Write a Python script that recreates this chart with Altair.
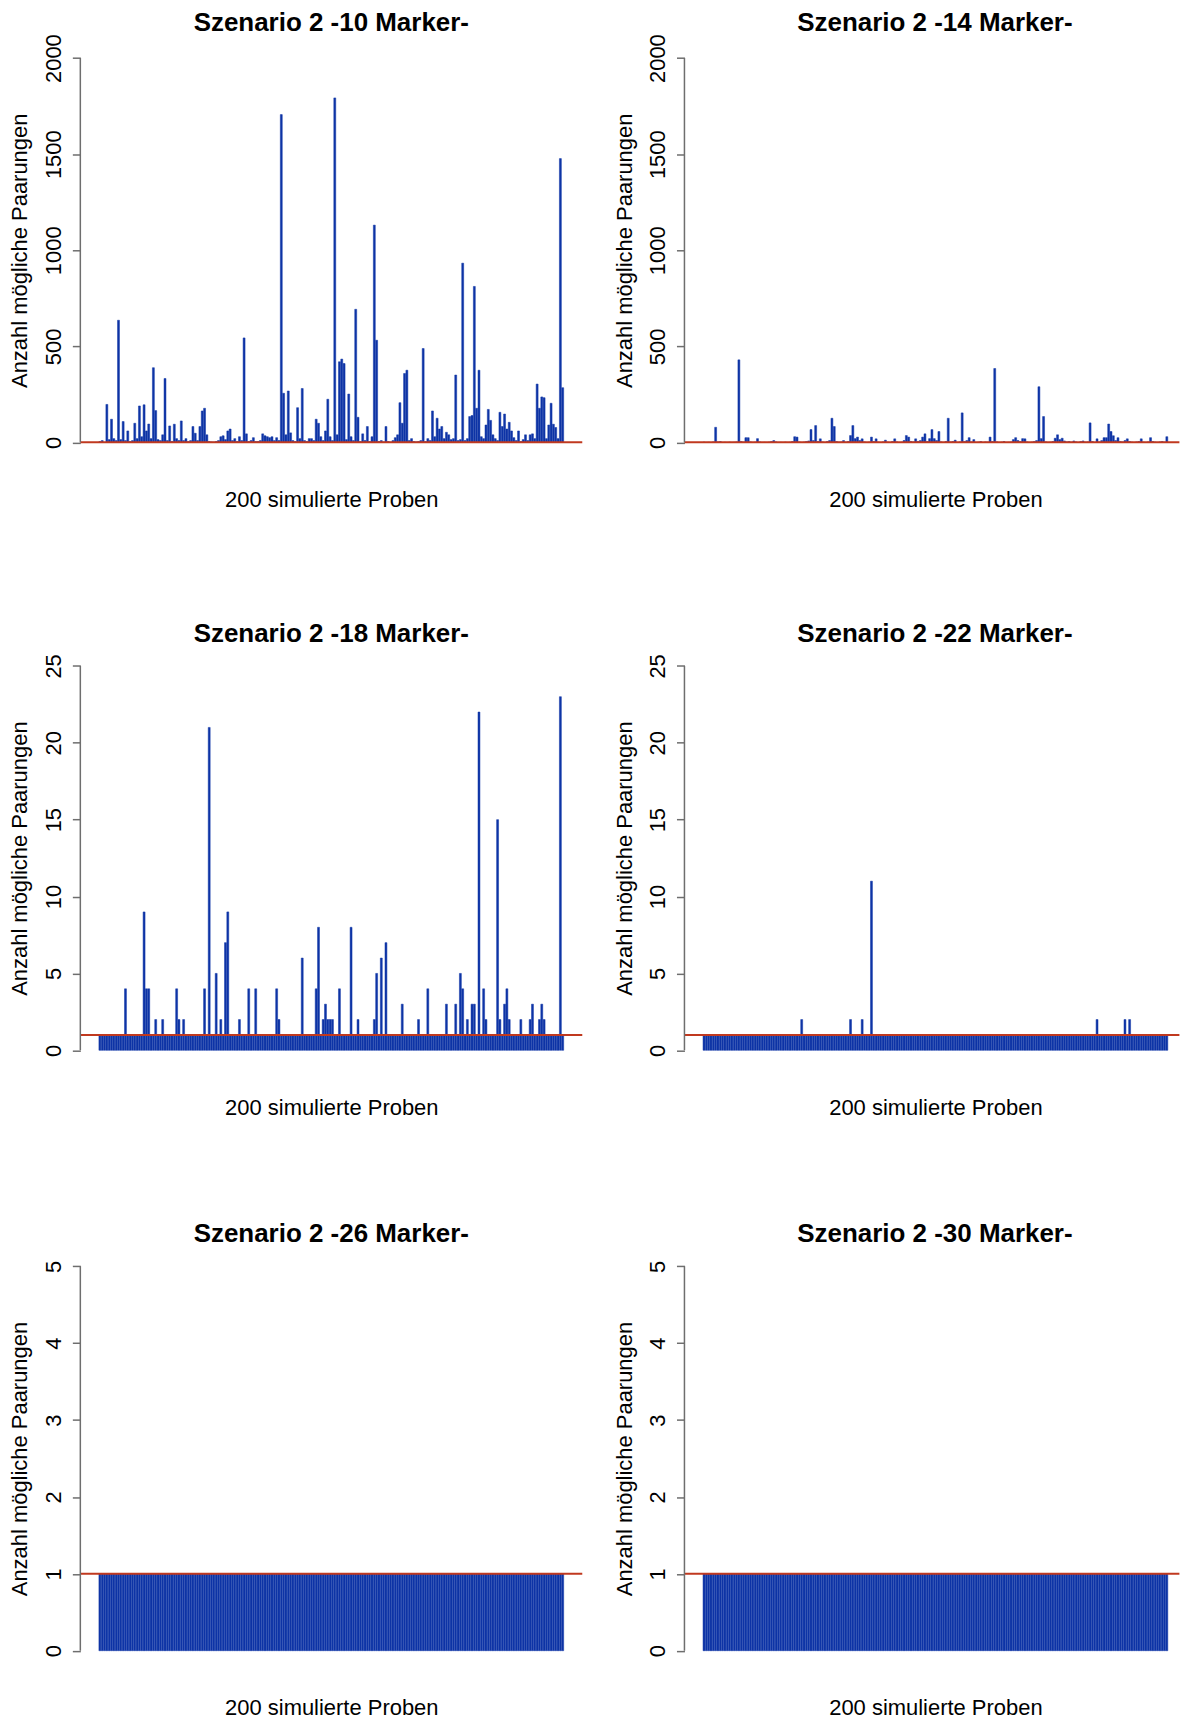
import altair as alt
import pandas as pd

BLUE = "#0e34a6"
RED = "#c0391f"
AXIS_GREY = "#6e6e6e"
FONT = "Liberation Sans"

titles = [
    "Szenario 2 -10 Marker-", "Szenario 2 -14 Marker-",
    "Szenario 2 -18 Marker-", "Szenario 2 -22 Marker-",
    "Szenario 2 -26 Marker-", "Szenario 2 -30 Marker-",
]
x_title = "200 simulierte Proben"
y_title = "Anzahl mögliche Paarungen"

m10 = [
    5, 10, 0, 198, 15, 121, 20, 10, 636, 15, 109, 10, 60, 5, 10, 100, 20, 190, 30, 196,
    60, 96, 20, 389, 166, 15, 10, 40, 333, 10, 86, 5, 95, 20, 10, 112, 10, 20, 5, 10,
    83, 48, 10, 83, 164, 178, 40, 5, 3, 2, 5, 10, 30, 35, 15, 60, 70, 10, 20, 5,
    30, 10, 544, 45, 5, 10, 25, 5, 5, 10, 45, 35, 30, 25, 30, 10, 25, 10, 1706, 256,
    40, 268, 50, 10, 5, 181, 20, 281, 10, 5, 20, 20, 10, 121, 100, 30, 10, 60, 225, 30,
    10, 1793, 40, 420, 434, 411, 15, 252, 30, 10, 693, 131, 5, 45, 10, 83, 5, 30, 1131, 532,
    5, 10, 3, 83, 5, 2, 10, 25, 40, 207, 100, 359, 376, 10, 20, 5, 3, 5, 10, 489,
    5, 20, 10, 164, 30, 126, 70, 83, 20, 53, 40, 15, 20, 351, 10, 15, 933, 10, 20, 135,
    140, 812, 178, 376, 30, 20, 91, 172, 115, 40, 20, 10, 157, 83, 148, 70, 105, 60, 25, 10,
    60, 5, 15, 40, 10, 40, 45, 20, 304, 178, 237, 233, 20, 91, 204, 95, 78, 20, 1477, 285,
]
m14 = [
    2, 0, 1, 0, 3, 79, 3, 5, 0, 1, 0, 2, 0, 1, 3, 430, 5, 2, 25, 25,
    3, 0, 2, 20, 3, 0, 1, 0, 2, 5, 10, 3, 0, 1, 0, 2, 0, 1, 5, 30,
    28, 3, 0, 2, 5, 8, 67, 10, 88, 5, 19, 3, 0, 5, 10, 126, 83, 5, 2, 3,
    10, 2, 5, 36, 88, 20, 28, 10, 19, 3, 0, 2, 28, 5, 19, 2, 0, 3, 12, 2,
    0, 5, 19, 3, 0, 2, 10, 36, 28, 5, 3, 19, 5, 10, 28, 45, 5, 20, 67, 20,
    10, 57, 3, 0, 5, 126, 3, 5, 12, 0, 3, 154, 5, 10, 25, 3, 15, 0, 2, 5,
    0, 3, 2, 28, 5, 385, 3, 0, 2, 5, 0, 1, 3, 15, 25, 10, 5, 20, 19, 3,
    0, 2, 5, 10, 290, 20, 135, 3, 0, 2, 5, 22, 40, 15, 22, 8, 3, 5, 2, 8,
    3, 0, 5, 8, 2, 3, 102, 5, 0, 19, 3, 10, 25, 25, 96, 57, 35, 10, 25, 5,
    3, 10, 19, 5, 2, 0, 3, 5, 19, 2, 0, 3, 25, 5, 2, 0, 3, 5, 2, 30,
]
m18 = [
    1, 1, 1, 1, 1, 1, 1, 1, 1, 1, 1, 4, 1, 1, 1, 1, 1, 1, 1, 9,
    4, 4, 1, 1, 2, 1, 1, 2, 1, 1, 1, 1, 1, 4, 2, 1, 2, 1, 1, 1,
    1, 1, 1, 1, 1, 4, 1, 21, 1, 1, 5, 1, 2, 1, 7, 9, 1, 1, 1, 1,
    2, 1, 1, 1, 4, 1, 1, 4, 1, 1, 1, 1, 1, 1, 1, 1, 4, 2, 1, 1,
    1, 1, 1, 1, 1, 1, 1, 6, 1, 1, 1, 1, 1, 4, 8, 1, 2, 3, 2, 2,
    2, 1, 1, 4, 1, 1, 1, 1, 8, 1, 1, 2, 1, 1, 1, 1, 1, 1, 2, 5,
    1, 6, 1, 7, 1, 1, 1, 1, 1, 1, 3, 1, 1, 1, 1, 1, 1, 2, 1, 1,
    1, 4, 1, 1, 1, 1, 1, 1, 1, 3, 1, 1, 1, 3, 1, 5, 4, 1, 2, 1,
    3, 3, 1, 22, 1, 4, 2, 1, 1, 1, 1, 15, 2, 1, 3, 4, 2, 1, 1, 1,
    1, 2, 1, 1, 1, 2, 3, 1, 1, 2, 3, 2, 1, 1, 1, 1, 1, 1, 23, 1,
]
m22 = [
    1, 1, 1, 1, 1, 1, 1, 1, 1, 1, 1, 1, 1, 1, 1, 1, 1, 1, 1, 1,
    1, 1, 1, 1, 1, 1, 1, 1, 1, 1, 1, 1, 1, 1, 1, 1, 1, 1, 1, 1,
    1, 1, 2, 1, 1, 1, 1, 1, 1, 1, 1, 1, 1, 1, 1, 1, 1, 1, 1, 1,
    1, 1, 1, 2, 1, 1, 1, 1, 2, 1, 1, 1, 11, 1, 1, 1, 1, 1, 1, 1,
    1, 1, 1, 1, 1, 1, 1, 1, 1, 1, 1, 1, 1, 1, 1, 1, 1, 1, 1, 1,
    1, 1, 1, 1, 1, 1, 1, 1, 1, 1, 1, 1, 1, 1, 1, 1, 1, 1, 1, 1,
    1, 1, 1, 1, 1, 1, 1, 1, 1, 1, 1, 1, 1, 1, 1, 1, 1, 1, 1, 1,
    1, 1, 1, 1, 1, 1, 1, 1, 1, 1, 1, 1, 1, 1, 1, 1, 1, 1, 1, 1,
    1, 1, 1, 1, 1, 1, 1, 1, 1, 2, 1, 1, 1, 1, 1, 1, 1, 1, 1, 1,
    1, 2, 1, 2, 1, 1, 1, 1, 1, 1, 1, 1, 1, 1, 1, 1, 1, 1, 1, 1,
]
m26 = [
    1, 1, 1, 1, 1, 1, 1, 1, 1, 1, 1, 1, 1, 1, 1, 1, 1, 1, 1, 1,
    1, 1, 1, 1, 1, 1, 1, 1, 1, 1, 1, 1, 1, 1, 1, 1, 1, 1, 1, 1,
    1, 1, 1, 1, 1, 1, 1, 1, 1, 1, 1, 1, 1, 1, 1, 1, 1, 1, 1, 1,
    1, 1, 1, 1, 1, 1, 1, 1, 1, 1, 1, 1, 1, 1, 1, 1, 1, 1, 1, 1,
    1, 1, 1, 1, 1, 1, 1, 1, 1, 1, 1, 1, 1, 1, 1, 1, 1, 1, 1, 1,
    1, 1, 1, 1, 1, 1, 1, 1, 1, 1, 1, 1, 1, 1, 1, 1, 1, 1, 1, 1,
    1, 1, 1, 1, 1, 1, 1, 1, 1, 1, 1, 1, 1, 1, 1, 1, 1, 1, 1, 1,
    1, 1, 1, 1, 1, 1, 1, 1, 1, 1, 1, 1, 1, 1, 1, 1, 1, 1, 1, 1,
    1, 1, 1, 1, 1, 1, 1, 1, 1, 1, 1, 1, 1, 1, 1, 1, 1, 1, 1, 1,
    1, 1, 1, 1, 1, 1, 1, 1, 1, 1, 1, 1, 1, 1, 1, 1, 1, 1, 1, 1,
]
m30 = [
    1, 1, 1, 1, 1, 1, 1, 1, 1, 1, 1, 1, 1, 1, 1, 1, 1, 1, 1, 1,
    1, 1, 1, 1, 1, 1, 1, 1, 1, 1, 1, 1, 1, 1, 1, 1, 1, 1, 1, 1,
    1, 1, 1, 1, 1, 1, 1, 1, 1, 1, 1, 1, 1, 1, 1, 1, 1, 1, 1, 1,
    1, 1, 1, 1, 1, 1, 1, 1, 1, 1, 1, 1, 1, 1, 1, 1, 1, 1, 1, 1,
    1, 1, 1, 1, 1, 1, 1, 1, 1, 1, 1, 1, 1, 1, 1, 1, 1, 1, 1, 1,
    1, 1, 1, 1, 1, 1, 1, 1, 1, 1, 1, 1, 1, 1, 1, 1, 1, 1, 1, 1,
    1, 1, 1, 1, 1, 1, 1, 1, 1, 1, 1, 1, 1, 1, 1, 1, 1, 1, 1, 1,
    1, 1, 1, 1, 1, 1, 1, 1, 1, 1, 1, 1, 1, 1, 1, 1, 1, 1, 1, 1,
    1, 1, 1, 1, 1, 1, 1, 1, 1, 1, 1, 1, 1, 1, 1, 1, 1, 1, 1, 1,
    1, 1, 1, 1, 1, 1, 1, 1, 1, 1, 1, 1, 1, 1, 1, 1, 1, 1, 1, 1,
]

series = [m10, m14, m18, m22, m26, m30]
y_ticks = [
    [0, 500, 1000, 1500, 2000], [0, 500, 1000, 1500, 2000],
    [0, 5, 10, 15, 20, 25], [0, 5, 10, 15, 20, 25],
    [0, 1, 2, 3, 4, 5], [0, 1, 2, 3, 4, 5],
]
ref_level = [1]

PLOT_W = 503
PLOT_W_RIGHT = 496
PLOT_H = 416
COL_GAP = 102.4
ROW_GAP_LOWER = 185.7
TOP_TO_LOWER_GAP = 110.1


def panel(values, title, ticks, right, first_row):
    n = len(values)
    df = pd.DataFrame({"probe": list(range(1, n + 1)), "anzahl": values})
    # barplot geometry: width 1, space 0.2, axis range extended by 4%
    left_edge, right_edge = 0.2, 1.2 * n
    ext = 0.04 * (right_edge - left_edge)
    lo, hi = left_edge - ext, right_edge + ext
    width = PLOT_W
    if right:
        width = PLOT_W_RIGHT
        hi = lo + (hi - lo) * PLOT_W_RIGHT / PLOT_W
    ymax = ticks[-1]
    yscale = alt.Scale(domain=[-0.04 * ymax, 1.04 * ymax], nice=False, zero=False)
    xscale = alt.Scale(domain=[lo, hi], nice=False, zero=False)

    xaxis_kw = dict(
        title=x_title, labels=False, ticks=False, domain=False, grid=False,
        titleFont=FONT, titleFontSize=22, titleFontWeight="normal",
        titleColor="black", titlePadding=31.5,
    )
    if right:
        xaxis_kw["titleX"] = PLOT_W / 2
    xaxis = alt.Axis(**xaxis_kw)
    yaxis = alt.Axis(
        values=ticks, format="d", title=y_title, domain=False, grid=False,
        ticks=True, tickSize=8, tickColor=AXIS_GREY, tickWidth=1.5,
        labelAngle=270, labelAlign="center", labelBaseline="alphabetic",
        labelPadding=11.5, labelFont=FONT, labelFontSize=22, labelColor="black",
        labelOverlap=False,
        titleFont=FONT, titleFontSize=22, titleFontWeight="normal",
        titleColor="black", titleAngle=270, titleAlign="center",
        titleBaseline="alphabetic", titleX=-53.5,
    )

    bars = (
        alt.Chart(df)
        .transform_calculate(x0="datum.probe * 1.2 - 1", x1="datum.probe * 1.2")
        .mark_rect(color=BLUE, stroke=BLUE, strokeWidth=0.5)
        .encode(
            x=alt.X("x0:Q", scale=xscale, axis=xaxis),
            x2="x1:Q",
            y=alt.Y("anzahl:Q", scale=yscale, axis=yaxis),
            y2=alt.datum(0),
        )
    )
    ref = (
        alt.Chart(pd.DataFrame({"h": ref_level}))
        .mark_rule(color=RED, strokeWidth=2)
        .encode(y=alt.Y("h:Q", scale=yscale, axis=yaxis))
    )
    axis_line = (
        alt.Chart(pd.DataFrame({"lo": [ticks[0]], "hi": [ticks[-1]]}))
        .mark_rule(color=AXIS_GREY, strokeWidth=1.5)
        .encode(x=alt.value(0), y=alt.Y("lo:Q", scale=yscale, axis=yaxis), y2="hi:Q")
    )
    return alt.layer(bars, ref, axis_line).properties(
        width=width,
        height=PLOT_H,
        title=alt.TitleParams(
            text=title, font=FONT, fontSize=26, fontWeight="bold", color="black",
            anchor="middle", frame="group", baseline="top",
            offset=-2 if first_row else 4,
            dx=3 if right else 0,
        ),
    )


panels = [
    panel(series[i], titles[i], y_ticks[i], i % 2 == 1, i < 2) for i in range(6)
]

top_row = alt.HConcatChart(hconcat=panels[:2], spacing=COL_GAP, bounds="flush")
lower_rows = alt.ConcatChart(
    concat=panels[2:],
    columns=2,
    spacing=alt.RowColnumber(column=COL_GAP, row=ROW_GAP_LOWER),
    bounds="flush",
)

chart = (
    alt.VConcatChart(vconcat=[top_row, lower_rows], spacing=TOP_TO_LOWER_GAP, bounds="full")
    .properties(padding={"left": 8.5, "top": 7, "right": 0, "bottom": 0})
    .configure(font=FONT, background="white")
    .configure_view(stroke=None)
)

chart.save("out.html", embed_options={"renderer": "svg", "actions": False})
